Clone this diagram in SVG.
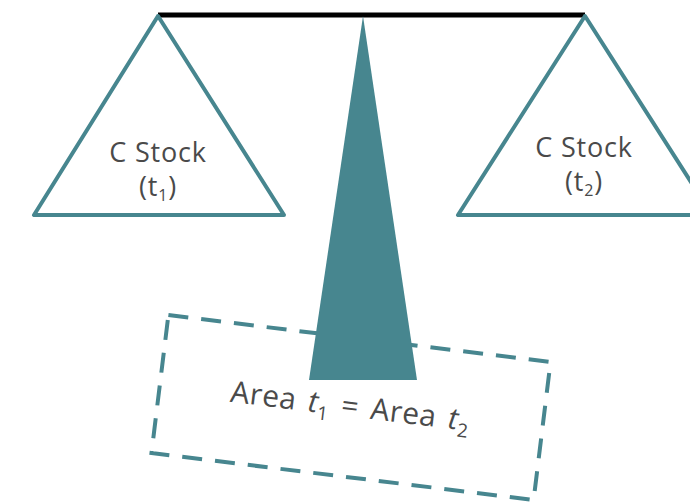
<svg xmlns="http://www.w3.org/2000/svg" width="690" height="503" viewBox="0 0 690 503">
<style>
.tri{fill:#fff;stroke:#47868f;stroke-width:4;stroke-linejoin:round}
.lbl{font-family:"Open Sans",sans-serif;font-size:27px;fill:#4a4a4a;text-anchor:middle;letter-spacing:0.8px}
.sub{font-size:16px}
.area{font-size:30px;letter-spacing:0.3px;word-spacing:4px}
.asub{font-size:19px}
</style>
<rect width="690" height="503" fill="#fff"/>
<g id="area">
<g transform="translate(351,407.5) rotate(7)">
<rect x="-192.5" y="-69.5" width="385" height="139" fill="none" stroke="#47868f" stroke-width="4" stroke-dasharray="20 13"/>
<text class="lbl area" x="-1" y="9">Area <tspan font-style="italic">t</tspan><tspan class="asub" dy="7">1</tspan><tspan dy="-7"> = Area </tspan><tspan font-style="italic">t</tspan><tspan class="asub" dy="7">2</tspan></text>
</g>
</g>
<g id="beam">
<line x1="158" y1="15" x2="585" y2="15" stroke="#000" stroke-width="5"/>
</g>
<g id="left-pan">
<polygon class="tri" points="158,16 34,215 284,215"/>
<text class="lbl" x="158" y="162">C Stock</text>
<text class="lbl" x="158" y="196">(t<tspan class="sub" dy="5">1</tspan><tspan dy="-5">)</tspan></text>
</g>
<g id="right-pan">
<polygon class="tri" points="585,16 458,215 712,215"/>
<text class="lbl" x="584" y="157">C Stock</text>
<text class="lbl" x="584" y="191">(t<tspan class="sub" dy="5">2</tspan><tspan dy="-5">)</tspan></text>
</g>
<g id="fulcrum">
<polygon points="363,16 309,380 417,380" fill="#47868f"/>
</g>
</svg>
